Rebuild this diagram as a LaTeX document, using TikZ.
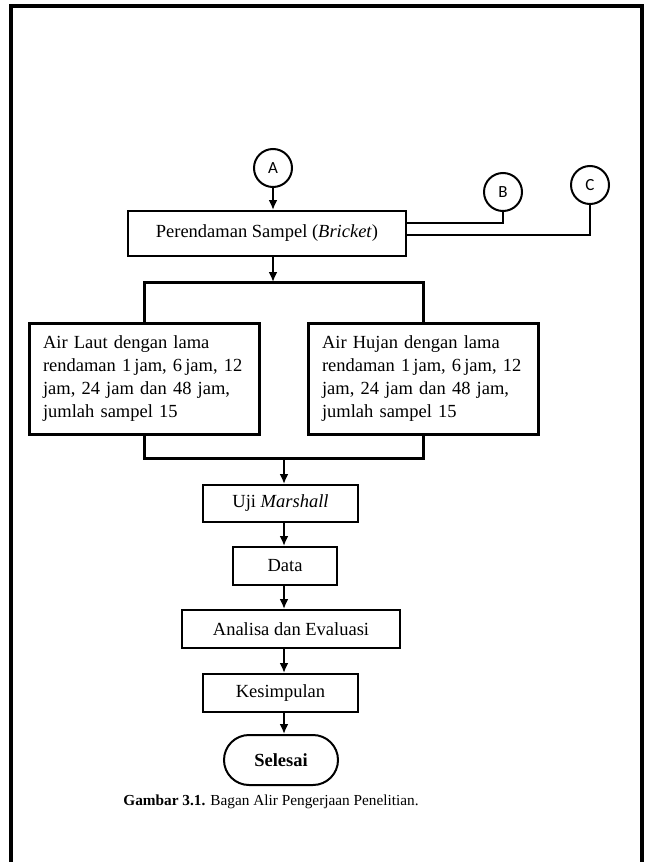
\documentclass[tikz,border=0pt]{standalone}
\usepackage{fontspec}
\setmainfont{Liberation Serif}
\newfontfamily\hurufbulat{Carlito}
\usepackage{tikz}
\usetikzlibrary{
	arrows.meta,
	positioning,
	calc
}
\usepackage{xcolor}

\tikzset{
	kotak/.style={draw,line width=2pt,inner sep=0pt,font=\fontsize{18.5}{23}\selectfont},
	kotakair/.style={draw,line width=3pt,text width=202pt,inner xsep=14pt,inner ysep=0pt,minimum height=111pt,align=left,font=\fontsize{18.5}{23}\selectfont},
	bulat/.style={draw,circle,line width=2pt,minimum size=38pt,inner sep=0pt,font=\hurufbulat\fontsize{17}{17}\selectfont},
	garis/.style={line width=3pt},
	panah/.style={-{Latex[length=10pt,width=9pt]},line width=2pt}
}

\begin{document}
\begin{tikzpicture}[x=1pt,y=-1pt]
				
				\useasboundingbox (0,0) rectangle (645,862);
				
				% Frame
				\draw[line width=3.5pt] (11,862) -- (11,6) -- (642,6) -- (642,862);
				
				% Connectors in
				\node[bulat] (A) at (273,168) {A};
				\node[bulat] (B) at (503,192) {B};
				\node[bulat] (C) at (590,185) {C};
				
				\node[kotak,minimum width=278pt,minimum height=45pt] (rendam) at (267,233.5) {Perendaman Sampel (\textit{Bricket})};
				
				\draw[panah] (A.south) -- (A.south |- rendam.north);
				\draw[line width=2pt] (B.south) |- ([yshift=11pt]rendam.east);
				\draw[line width=2pt] (C.south) |- ([yshift=-1pt]rendam.east);
				
				% Soaking water
				\coordinate (pisah) at (273,282);
				\coordinate (gabung) at (284,458);
				
				\node[kotakair] (laut) at (144,378.5) {Air Laut dengan lama\\rendaman 1\,jam, 6\,jam, 12\\jam, 24 jam dan 48 jam,\\jumlah sampel 15};
				\node[kotakair] (hujan) at (423,378.5) {Air Hujan dengan lama\\rendaman 1\,jam, 6\,jam, 12\\jam, 24 jam dan 48 jam,\\jumlah sampel 15};
				
				\draw[panah] (A |- rendam.south) -- (pisah);
				\draw[garis] (laut.north) |- (pisah) -| (hujan.north);
				\draw[garis] (laut.south) |- (gabung) -| (hujan.south);
				
				% Test and results
				\node[kotak,minimum width=155pt,minimum height=37pt] (uji) at (280.5,503.5) {Uji \textit{Marshall}};
				\node[kotak,minimum width=104pt,minimum height=38pt] (data) at (285,566) {Data};
				\node[kotak,minimum width=218pt,minimum height=38pt] (analisa) at (291,629) {Analisa dan Evaluasi};
				\node[kotak,minimum width=155pt,minimum height=38pt] (simpul) at (280.5,693) {Kesimpulan};
				\node[kotak,rounded corners=25pt,minimum width=114pt,minimum height=50pt] (selesai) at (281,760) {\textbf{Selesai}};
				
				\draw[panah] (gabung) -- (gabung |- uji.north);
				\foreach \a/\b in {uji/data,data/analisa,analisa/simpul,simpul/selesai}
				{
					\draw[panah] (gabung |- \a.south) -- (gabung |- \b.north);
				}
				
				\node[font=\fontsize{15.3}{18}\selectfont] (judul) at (271,802) {\textbf{Gambar 3.1.} Bagan Alir Pengerjaan Penelitian.};
				
			\end{tikzpicture}
\end{document}
